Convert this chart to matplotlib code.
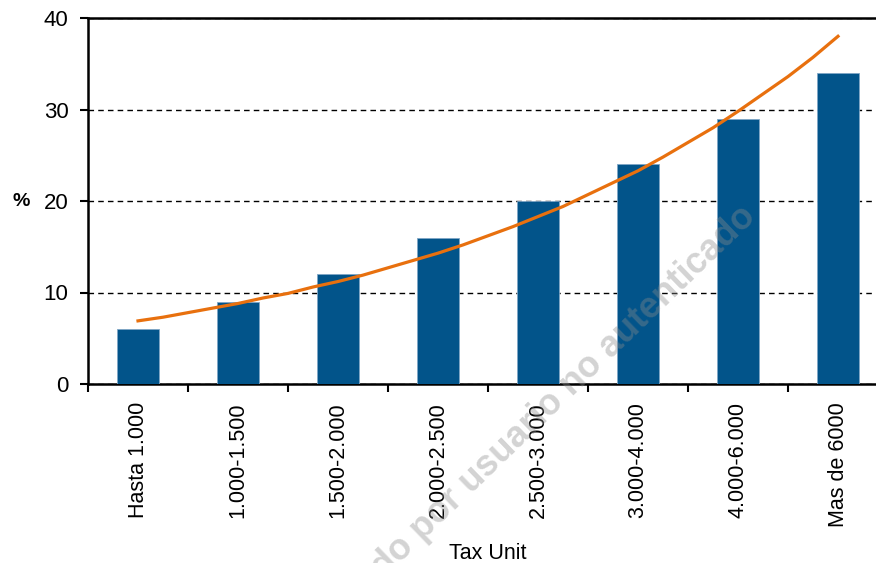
import numpy as np
import matplotlib.pyplot as plt

plt.rcParams['font.family'] = ['Liberation Sans', 'DejaVu Sans']

# data
categories = ['Hasta 1.000', '1.000-1.500', '1.500-2.000', '2.000-2.500',
              '2.500-3.000', '3.000-4.000', '4.000-6.000', 'Mas de 6000']
values = [6, 9, 12, 16, 20, 24, 29, 34]
# orange trend line, read at every quarter category
trend_x = [0, 0.25, 0.5, 0.75, 1, 1.25, 1.5, 1.75, 2, 2.25, 2.5, 2.75, 3, 3.25, 3.5,
           3.75, 4, 4.25, 4.5, 4.75, 5, 5.25, 5.5, 5.75, 6, 6.25, 6.5, 6.75, 7]
trend_y = [6.9, 7.3, 7.8, 8.3, 8.8, 9.4, 9.9, 10.6, 11.2, 11.9, 12.7, 13.5, 14.3, 15.2,
           16.2, 17.2, 18.3, 19.4, 20.7, 22.0, 23.3, 24.8, 26.4, 28.0, 29.8, 31.7,
           33.6, 35.7, 38.0]

fig = plt.figure(figsize=(8.76, 5.63), dpi=100)
W, H = 876, 563
ax = fig.add_axes([88 / W, (H - 384) / H, 800 / W, 366 / H])

x = np.arange(len(categories))
ax.bar(x, values, width=0.42, color='#02548a', edgecolor='#7fa6c6',
       linewidth=0.6, zorder=3)
ax.plot(trend_x, trend_y, color='#e8700e', linewidth=2.3, zorder=4,
        solid_joinstyle='round')

ax.set_xlim(-0.5, len(categories) - 0.5)
ax.set_ylim(0, 40)
ax.set_yticks([0, 10, 20, 30, 40])
ax.yaxis.grid(True, linestyle=(0, (4, 3)), color='black', linewidth=1.0, zorder=1)
ax.set_axisbelow(True)

ax.set_xticks(np.arange(len(categories) + 1) - 0.5)
ax.set_xticklabels([])
ax.set_xticks(x, minor=True)
ax.set_xticklabels(categories, minor=True, rotation=90, fontsize=15.5)
ax.tick_params(axis='x', which='minor', length=0, pad=13)
ax.tick_params(axis='x', which='major', length=6, width=1.5, direction='out')
ax.tick_params(axis='y', length=6, width=1.5, direction='out', labelsize=16, pad=8)

for s in ['left', 'bottom', 'top']:
    ax.spines[s].set_linewidth(1.8)
ax.spines['right'].set_visible(False)

ax.set_xlabel('Tax Unit', fontsize=15.5, labelpad=12)
fig.text(21 / W, 1 - 201 / H, '%', fontsize=14, fontweight='bold',
         ha='center', va='center')

# faint watermark over the plot
fig.text(757 / W, 1 - 218 / H, 'do por usuario no autenticado', fontsize=26,
         fontweight='bold', color='#8c8c8c', alpha=0.38, rotation=44,
         rotation_mode='anchor', ha='right', va='baseline', zorder=10)

fig.savefig('out.png', dpi=100)
